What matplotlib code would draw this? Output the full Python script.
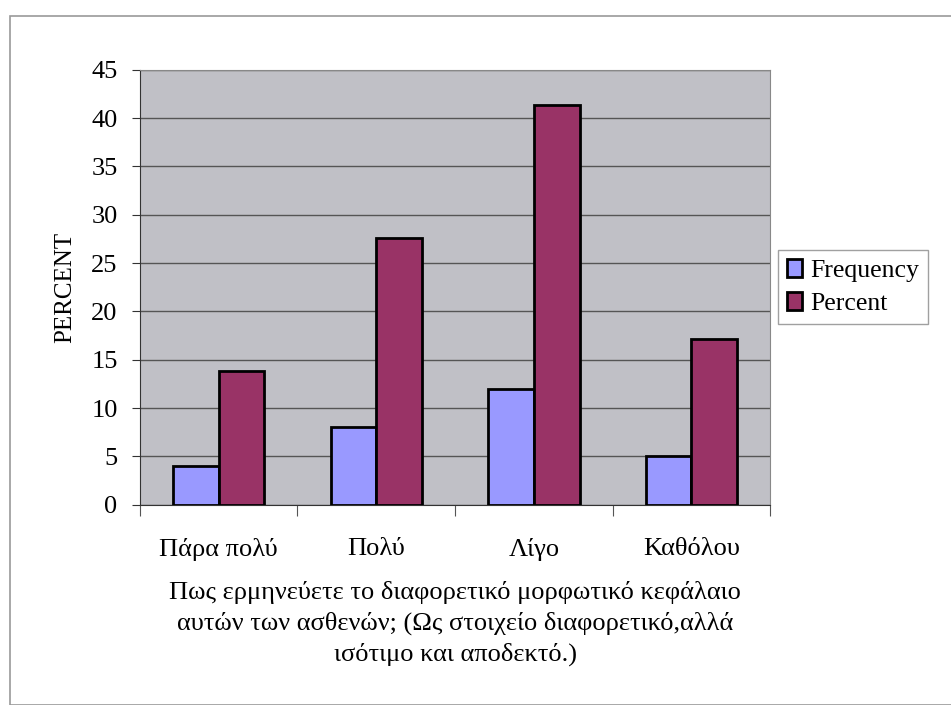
import numpy as np
import matplotlib
matplotlib.use('Agg')
import matplotlib.pyplot as plt
from matplotlib.patches import Rectangle

categories = ['Πάρα πολύ', 'Πολύ', 'Λίγο', 'Καθόλου']
frequency = [4, 8, 12, 5]
percent = [13.8, 27.6, 41.4, 17.2]
y_ticks = [0, 5, 10, 15, 20, 25, 30, 35, 40, 45]

plt.rcParams['font.family'] = ['Liberation Serif', 'DejaVu Serif']

fig = plt.figure(figsize=(9.51, 7.05), dpi=100)
# thin frame round the whole chart
fig.patches.append(Rectangle((0.011, 0.0), 0.99, 0.978, transform=fig.transFigure,
                             fill=False, edgecolor='#9a9a9a', linewidth=1.2))

ax = fig.add_axes([0.147, 0.284, 0.663, 0.617])
ax.set_facecolor('#c0c0c6')

x = np.arange(len(categories))
w = 0.29
ax.bar(x - w / 2, frequency, w, color='#9999ff', edgecolor='black', linewidth=2,
       label='Frequency', zorder=3)
ax.bar(x + w / 2, percent, w, color='#993366', edgecolor='black', linewidth=2,
       label='Percent', zorder=3)

ax.set_ylim(0, 45)
ax.set_xlim(-0.5, len(categories) - 0.5)
ax.set_yticks(y_ticks)
ax.yaxis.grid(True, color='#555555', linewidth=1, zorder=1)
ax.tick_params(axis='y', labelsize=19, length=6, direction='out', colors='#333333',
               labelcolor='black', pad=10)

# category labels between tick marks at the group borders
ax.set_xticks(np.arange(len(categories) + 1) - 0.5)
ax.set_xticklabels([])
ax.set_xticks(x, minor=True)
ax.set_xticklabels(categories, minor=True, fontsize=19)
ax.tick_params(axis='x', which='major', length=8, colors='#555555')
ax.tick_params(axis='x', which='minor', length=0, pad=24)

for s in ['top', 'right']:
    ax.spines[s].set_color('#888888')
for s in ['left', 'bottom']:
    ax.spines[s].set_color('#333333')

ax.set_ylabel('PERCENT', fontsize=18, labelpad=11)
ax.set_xlabel('Πως ερμηνεύετε το διαφορετικό μορφωτικό κεφάλαιο\n'
              'αυτών των ασθενών; (Ως στοιχείο διαφορετικό,αλλά\n'
              'ισότιμο και αποδεκτό.)', fontsize=19, labelpad=14, linespacing=1.42)

leg = ax.legend(loc='center left', bbox_to_anchor=(1.0, 0.5), fontsize=18.5,
                frameon=True, fancybox=False, edgecolor='#888888',
                handlelength=0.6, handleheight=0.7, handletextpad=0.3,
                borderpad=0.35, labelspacing=0.4, borderaxespad=0.3)
leg.get_frame().set_linewidth(1)

fig.savefig('out.png', dpi=100)
